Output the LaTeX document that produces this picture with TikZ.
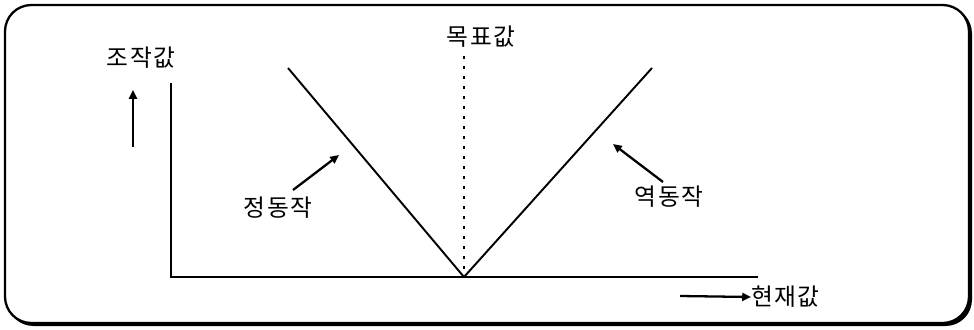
\documentclass[tikz,border=0pt]{standalone}
\usepackage{fontspec}
\setmainfont{Noto Sans CJK KR}
\usetikzlibrary{calc,arrows.meta}

\begin{document}
\begin{tikzpicture}[x=0.02cm,y=-0.02cm,
  lbl/.style={font=\fontsize{13.5}{15}\selectfont\addfontfeature{LetterSpace=6},inner sep=0pt},
  pointer/.style={line width=1.3pt,-{Triangle[length=5pt,width=4.5pt]}}]
  % Parameters
\def\Ax{171}     % y axis
\def\Ay{277}     % x axis
\def\Vx{464}     % target value

\useasboundingbox (0,0) rectangle (974,329);

 % frame with shadow
 \fill[black, rounded corners=15] (7,7) rectangle (972,326);
 \filldraw[fill=white, line width=1.3pt, rounded corners=15] (5,5) rectangle (969,323);

 \coordinate (O) at (\Ax, \Ay);
 \coordinate (Ytop) at (\Ax, 83);
 \coordinate (Xend) at (758, \Ay);
 \coordinate (V) at (\Vx, \Ay);
 \coordinate (T) at (\Vx, 56);
 \coordinate (Lt) at (288, 68);
 \coordinate (Rt) at (652, 68);

  \begin{scope}[line width=1.1pt]
    \draw (Ytop) -- (O) -- (Xend);
    \draw (Lt) -- (V) -- (Rt);
    \draw[line width=1.6pt, dash pattern=on 1.8pt off 3.9pt] (T) -- (V);
  \end{scope}

  % Labels
\node[lbl] (mv) at (141, 58) {조작값};
\node[lbl] (sp) at (481, 37) {목표값};
\node[lbl] (dir) at (278, 208) {정동작};
\node[lbl] (rev) at (669, 197) {역동작};
\node[lbl, anchor=west] (pv) at (751, 297) {현재값};

 \coordinate (mvA) at (133, 147);
 \coordinate (mvB) at (133, 90);
 \coordinate (pvA) at (680, 296);
 \coordinate (dirA) at (293, 190);
 \coordinate (dirB) at (339, 155);
 \coordinate (revA) at (663, 182);
 \coordinate (revB) at (613, 144);

  \draw[pointer] (mvA) -- (mvB);
  \draw[pointer] (pvA) -- (pv.west);
  \draw[pointer] (dirA) -- (dirB);
  \draw[pointer] (revA) -- (revB);

  \end{tikzpicture}
\end{document}
